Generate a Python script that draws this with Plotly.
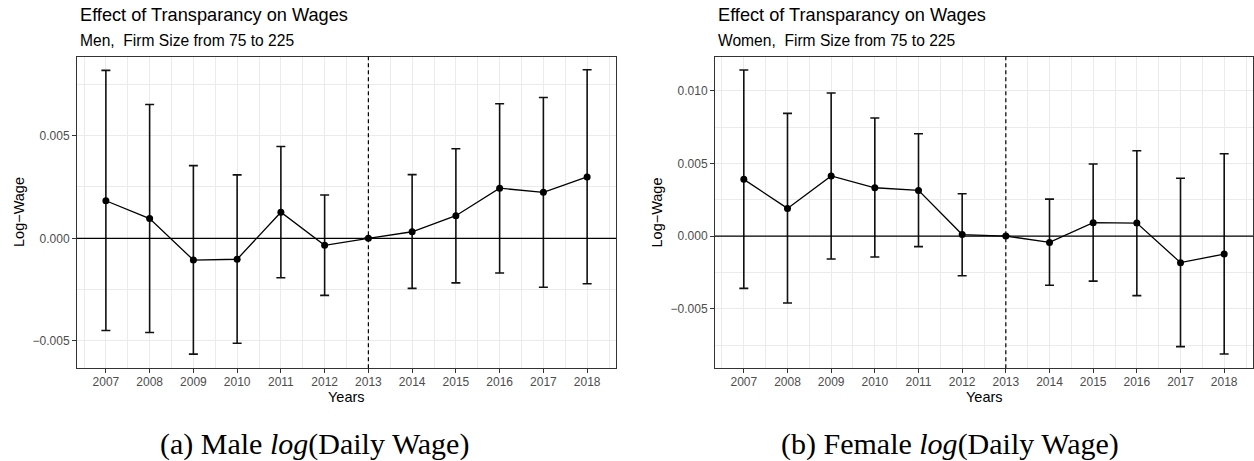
import plotly.graph_objects as go

# ---- data -------------------------------------------------------------
years = [2007, 2008, 2009, 2010, 2011, 2012, 2013, 2014, 2015, 2016, 2017, 2018]
year_labels = [str(y) for y in years]

# Men: point estimates and 95% CI bounds
men_est = [0.00183, 0.00096, -0.00106, -0.00102, 0.00127, -0.00034, 0.0,
           0.00032, 0.00110, 0.00244, 0.00224, 0.00299]
men_upper = [0.00818, 0.00652, 0.00354, 0.00309, 0.00447, 0.00211, 0.0,
             0.00310, 0.00436, 0.00655, 0.00686, 0.00821]
men_lower = [-0.00449, -0.00459, -0.00564, -0.00511, -0.00192, -0.00278, 0.0,
             -0.00244, -0.00217, -0.00169, -0.00238, -0.00221]

# Women: point estimates and 95% CI bounds
women_est = [0.00390, 0.00190, 0.00413, 0.00332, 0.00314, 0.00010, 0.0,
             -0.00044, 0.00092, 0.00089, -0.00183, -0.00124]
women_upper = [0.01142, 0.00844, 0.00984, 0.00812, 0.00704, 0.00291, 0.0,
               0.00254, 0.00495, 0.00587, 0.00397, 0.00566]
women_lower = [-0.00360, -0.00461, -0.00158, -0.00144, -0.00073, -0.00273, 0.0,
               -0.00339, -0.00310, -0.00410, -0.00761, -0.00812]

men_yticks = [-0.005, 0.0, 0.005]
men_yticklabels = ["\u22120.005", "0.000", "0.005"]
women_yticks = [-0.005, 0.0, 0.005, 0.010]
women_yticklabels = ["\u22120.005", "0.000", "0.005", "0.010"]

reform_year = 2013

# ---- layout geometry (pixels) ----------------------------------------
W, H = 1254, 461
SANS = "Liberation Sans, Arial, Helvetica, sans-serif"
SERIF = "Liberation Serif, Times New Roman, serif"


def px(x):
    return x / W


def py(y):
    return 1 - y / H


panel_top, panel_bottom = 56.8, 368.3
left_dom = [px(77), px(616)]
right_dom = [px(715), px(1253)]
y_dom = [py(panel_bottom), py(panel_top)]

fig = go.Figure()


def add_panel(est, upper, lower, xa, ya):
    plus = [u - e for u, e in zip(upper, est)]
    minus = [e - l for e, l in zip(est, lower)]
    fig.add_trace(go.Scatter(
        x=years, y=est, xaxis=xa, yaxis=ya,
        mode="lines+markers",
        line=dict(color="black", width=1.3),
        marker=dict(color="black", size=7),
        error_y=dict(type="data", array=plus, arrayminus=minus,
                     color="#111111", thickness=1.6, width=4.5),
        showlegend=False, hoverinfo="x+y",
    ))


add_panel(men_est, men_upper, men_lower, "x", "y")
add_panel(women_est, women_upper, women_lower, "x2", "y2")

grid = "#EBEBEB"
border = "#333333"
tickfont = dict(family=SANS, size=12, color="#4D4D4D")


def xaxis(dom, anchor):
    return dict(
        domain=dom, anchor=anchor, range=[2006.34, 2018.66],
        tickmode="array", tickvals=years, ticktext=year_labels,
        ticks="outside", ticklen=4, tickwidth=1, tickcolor=border,
        tickfont=tickfont, ticklabelstandoff=-2,
        showgrid=True, gridcolor=grid, gridwidth=1.2,
        minor=dict(tickmode="linear", tick0=2006.5, dtick=1,
                   showgrid=True, gridcolor=grid, gridwidth=0.6, ticks=""),
        showline=True, linecolor=border, linewidth=1, mirror=True,
        zeroline=False, fixedrange=True,
    )


def yaxis(dom, anchor, rng, tv, tt):
    return dict(
        domain=dom, anchor=anchor, range=rng,
        tickmode="array", tickvals=tv, ticktext=tt,
        ticks="outside", ticklen=4, tickwidth=1, tickcolor=border,
        tickfont=tickfont,
        showgrid=True, gridcolor=grid, gridwidth=1.2,
        minor=dict(tickmode="linear", tick0=0.0025, dtick=0.005,
                   showgrid=True, gridcolor=grid, gridwidth=0.6, ticks=""),
        showline=True, linecolor=border, linewidth=1, mirror=True,
        zeroline=False, fixedrange=True,
    )


shapes = []
for xr, yr in (("x", "y"), ("x2", "y2")):
    # zero reference line
    shapes.append(dict(type="line", xref=xr + " domain", yref=yr,
                       x0=0, x1=1, y0=0, y1=0,
                       line=dict(color="black", width=1.3)))
    # reform year marker
    shapes.append(dict(type="line", xref=xr, yref=yr + " domain",
                       x0=reform_year, x1=reform_year, y0=0, y1=1,
                       line=dict(color="black", width=1.2, dash="4px,3px")))

annotations = []


def text(x, y, s, size, color="black", family=SANS, xanchor="left",
         angle=0):
    annotations.append(dict(
        x=px(x), y=py(y), xref="paper", yref="paper", text=s,
        showarrow=False, xanchor=xanchor, yanchor="middle",
        textangle=angle, font=dict(family=family, size=size, color=color),
    ))


title = "Effect of Transparancy on Wages"
text(77.5, 15, title, 18.2)
text(77.5, 40, "Men,  Firm Size from 75 to 225", 15.6)
text(716, 15, title, 18.2)
text(716, 40, "Women,  Firm Size from 75 to 225", 15.6)

text(346.5, 397, "Years", 14.5, xanchor="center")
text(984, 397, "Years", 14.5, xanchor="center")
text(18.5, 212.5, "Log\u2212Wage", 14.5, xanchor="center", angle=-90)
text(656, 212.5, "Log\u2212Wage", 14.5, xanchor="center", angle=-90)

text(314, 443.5, "(a) Male <i>log</i>(Daily Wage)", 30,
     family=SERIF, xanchor="center")
text(950, 443.5, "(b) Female <i>log</i>(Daily Wage)", 30,
     family=SERIF, xanchor="center")

fig.update_layout(
    width=W, height=H,
    margin=dict(l=0, r=0, t=0, b=0),
    paper_bgcolor="white", plot_bgcolor="white",
    xaxis=xaxis(left_dom, "y"),
    yaxis=yaxis(y_dom, "x", [-0.00633, 0.00884], men_yticks, men_yticklabels),
    xaxis2=xaxis(right_dom, "y2"),
    yaxis2=yaxis(y_dom, "x2", [-0.0091, 0.01233], women_yticks,
                 women_yticklabels),
    shapes=shapes,
    annotations=annotations,
    showlegend=False,
)

fig.write_html("out.html", config={"displayModeBar": False})
